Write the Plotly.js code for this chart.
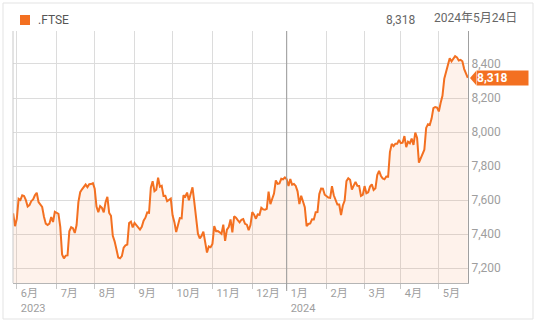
<!DOCTYPE html>
<html><head><meta charset="utf-8">
<script src="https://cdn.plot.ly/plotly-3.0.1.min.js"></script>
<style>html,body{margin:0;padding:0;background:#fff;}#chart{width:538px;height:321px;}</style>
</head><body><div id="chart"></div>
<script>
// FTSE 100 daily closes, 2023-05-30 .. 2024-05-24 (one value per trading day)
const values = [
7522,7446,7490,7607,7600,7628,7624,7599,7562,7570,7594,7603,7628,7643,7588,7569,7559,7502,7461,7453,
7461,7500,7471,7531,7527,7519,7442,7280,7257,7273,7274,7416,7440,7434,7406,7453,7588,7646,7663,7678,
7691,7676,7693,7694,7699,7666,7561,7529,7564,7554,7527,7587,7619,7524,7507,7389,7357,7310,7262,7257,
7270,7320,7333,7338,7465,7473,7439,7465,7453,7437,7426,7442,7478,7496,7527,7525,7673,7711,7652,7660,
7731,7678,7684,7624,7625,7593,7601,7608,7510,7470,7412,7451,7494,7492,7628,7620,7644,7599,7631,7675,
7588,7499,7402,7374,7389,7414,7355,7291,7327,7322,7342,7446,7417,7418,7410,7401,7455,7360,7426,7441,
7486,7410,7504,7496,7482,7469,7484,7488,7460,7455,7423,7453,7529,7514,7490,7515,7513,7554,7545,7543,
7548,7649,7576,7614,7638,7715,7695,7698,7725,7722,7733,7722,7682,7723,7690,7694,7683,7651,7576,7625,
7594,7558,7446,7459,7462,7487,7486,7528,7529,7635,7667,7666,7631,7622,7615,7613,7681,7628,7595,7573,
7573,7512,7568,7597,7711,7728,7719,7662,7685,7707,7684,7683,7624,7630,7682,7640,7646,7679,7692,7659,
7669,7747,7772,7743,7727,7722,7738,7737,7882,7930,7917,7931,7931,7953,7935,7937,7976,7911,7943,7934,
7961,7924,7996,7965,7820,7847,7877,7896,8024,8045,8041,8079,8140,8147,8144,8121,8172,8213,8313,8354,
8381,8434,8415,8428,8446,8439,8420,8424,8416,8370,8339,8318
];
const monthTickIdx = [2,24,45,67,88,110,132,151,173,194,214,235];
const monthLabels = ["6月<br>2023","7月","8月","9月","10月","11月","12月","1月<br>2024","2月","3月","4月","5月"];
const yTicks = [7200,7400,7600,7800,8000,8200,8400];
const seriesName = ".FTSE";
const lastValueText = "8,318";
const dateText = "2024年5月24日";
const yearBoundaryIdx = 151;

const L = 13, R = 468, T = 31, B = 283;
function px(x){ return (x - L) / (R - L); }
function py(y){ return (B - y) / (B - T); }
const xs = values.map((v, i) => i);
const lastVal = values[values.length - 1];
const orange = "#f37021";
const font = "Roboto, 'Noto Sans CJK JP', sans-serif";

const trace = {
  x: xs, y: values, type: "scatter", mode: "lines",
  line: {color: orange, width: 2},
  fill: "tozeroy", fillcolor: "rgba(243,112,33,0.09)",
  hoverinfo: "skip", showlegend: false
};

const layout = {
  width: 538, height: 321,
  margin: {l: L, r: 538 - R, t: T, b: 321 - B},
  paper_bgcolor: "#ffffff", plot_bgcolor: "#ffffff",
  font: {family: font, color: "#9e9e9e", size: 11},
  showlegend: false,
  xaxis: {
    range: [-0.1, 251.1], fixedrange: true,
    tickmode: "array", tickvals: monthTickIdx, ticktext: monthLabels,
    ticklabelposition: "outside right", ticklabelshift: 3,
    ticks: "outside", ticklen: 5, tickcolor: "#c8c8c8", tickwidth: 1,
    showgrid: true, gridcolor: "#dcdcdc", gridwidth: 1,
    showline: true, linecolor: "#b5b5b5", linewidth: 1,
    zeroline: false,
    tickfont: {family: font, size: 11, color: "#9e9e9e"}
  },
  yaxis: {
    side: "right", range: [7112, 8594], fixedrange: true,
    tickmode: "array", tickvals: yTicks, ticktext: yTicks.map(v => v.toLocaleString("en-US")),
    ticks: "", showgrid: true, gridcolor: "#dcdcdc", gridwidth: 1,
    showline: true, linecolor: "#a0a0a0", linewidth: 1,
    zeroline: false,
    tickfont: {family: font, size: 12, color: "#9e9e9e"}
  },
  shapes: [
    {type: "rect", xref: "paper", yref: "paper", x0: px(3), x1: px(533), y0: py(319), y1: py(3),
     line: {color: "#e3e3e3", width: 1}, fillcolor: "rgba(0,0,0,0)", layer: "below"},
    {type: "line", xref: "paper", yref: "paper", x0: 0, x1: 0, y0: 0, y1: 1,
     line: {color: "#c8c8c8", width: 1}},
    {type: "line", xref: "x", yref: "paper", x0: yearBoundaryIdx, x1: yearBoundaryIdx, y0: py(291), y1: 1,
     line: {color: "#9a9a9a", width: 1}},
    {type: "rect", xref: "paper", yref: "paper", x0: px(20), x1: px(30), y0: py(25), y1: py(15),
     line: {width: 0}, fillcolor: orange},
    {type: "path", xref: "paper", yref: "y", xsizemode: "pixel", ysizemode: "pixel",
     xanchor: 1, yanchor: lastVal,
     path: "M2,0 L8,7 L8,-7 Z", fillcolor: orange, line: {width: 0}}
  ],
  annotations: [
    {xref: "paper", yref: "paper", x: px(35.5), y: py(20.5), xanchor: "left", yanchor: "middle",
     text: seriesName, showarrow: false, font: {family: font, size: 12, color: "#555555"}},
    {xref: "paper", yref: "paper", x: px(418), y: py(20.5), xanchor: "right", yanchor: "middle",
     text: lastValueText, showarrow: false, font: {family: font, size: 12, color: "#666666"}},
    {xref: "paper", yref: "paper", x: px(519), y: py(18), xanchor: "right", yanchor: "middle",
     text: dateText, showarrow: false, font: {family: font, size: 12, color: "#666666"}},
    {xref: "paper", yref: "y", x: 1, y: lastVal, xanchor: "left", yanchor: "middle", xshift: 8,
     text: "<b>" + lastValueText + "</b>", showarrow: false, align: "left",
     width: 51, height: 14, borderpad: 0, bgcolor: orange,
     font: {family: font, size: 12, color: "#ffffff"}}
  ]
};

Plotly.newPlot("chart", [trace], layout, {displayModeBar: false, staticPlot: true});
</script>
</body></html>
